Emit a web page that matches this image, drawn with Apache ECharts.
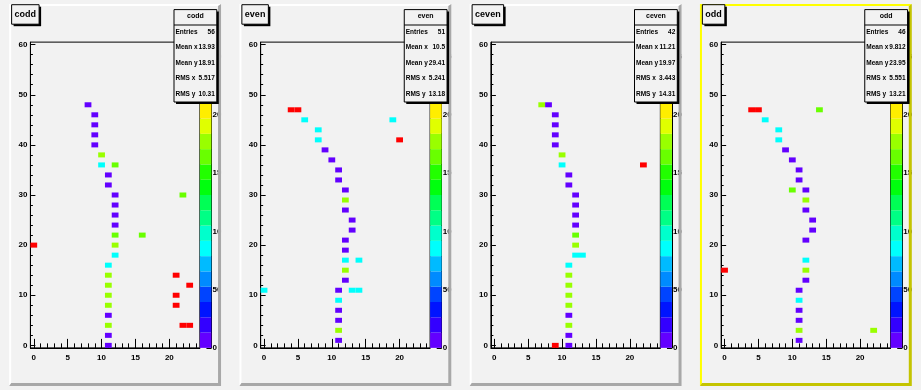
<!DOCTYPE html>
<html><head><meta charset="utf-8">
<script src="https://cdn.jsdelivr.net/npm/echarts@6/dist/echarts.min.js"></script>
<style>html,body{margin:0;padding:0;background:#f2f2f2}#c{width:921px;height:390px}</style>
</head><body><div id="c"></div>
<script>
// ---------------- data ----------------
const padTitles = ['codd', 'even', 'ceven', 'odd'];
const xMajorTicks = [0, 5, 10, 15, 20];
const xMinorTicks = [0,1,2,3,4,5,6,7,8,9,10,11,12,13,14,15,16,17,18,19,20,21,22,23,24];
const yMajorTicks = [0, 10, 20, 30, 40, 50, 60];
const yMinorTicks = [0,2,4,6,8,10,12,14,16,18,20,22,24,26,28,30,32,34,36,38,40,42,44,46,48,50,52,54,56,58,60];
const zTicks = [0, 50, 100, 150, 200, 250];
const zMax = 262.5;
const paletteColors = ['#6300ff','#3300ff','#0014ff','#0044ff','#008bff','#00bbff','#00fffc','#00ffcc','#00ff85','#00ff55',
                       '#00ff0e','#22ff00','#69ff00','#99ff00','#e0ff00','#ffee00','#ffa700','#ff7700','#ff3000','#ff0000'];
const statNames = ['Entries', 'Mean x', 'Mean y', 'RMS x', 'RMS y'];
const coddStats  = ['56', '13.93', '18.91', '5.517', '10.31'];
const evenStats  = ['51', '10.5', '29.41', '5.241', '13.18'];
const cevenStats = ['42', '11.21', '19.97', '3.443', '14.31'];
const oddStats   = ['46', '9.812', '23.95', '5.551', '13.21'];

const coddCells = [[8,48,10],[9,46,10],[9,44,10],[9,42,10],[9,40,10],[10,38,180],[10,36,85],[12,36,165],[11,34,10],[11,32,10],
  [12,30,10],[22,30,165],[12,28,10],[12,26,10],[12,24,10],[12,22,165],[16,22,165],[12,20,180],[0,20,250],[12,18,85],
  [11,16,85],[11,14,180],[11,12,180],[11,10,180],[11,8,180],[11,6,10],[11,4,180],[11,2,10],[11,0,10],[21,14,250],
  [23,12,250],[21,10,250],[21,8,250],[22,4,250],[23,4,250]];
const evenCells = [[4,47,250],[5,47,250],[6,45,85],[19,45,85],[8,43,85],[8,41,85],[20,41,250],[9,39,10],[10,37,10],[11,35,10],
  [11,33,10],[12,31,10],[12,29,180],[12,27,10],[13,25,10],[13,23,10],[12,21,10],[12,19,10],[12,17,85],[14,17,85],
  [12,15,180],[12,13,10],[0,11,85],[11,11,10],[13,11,85],[14,11,85],[11,9,85],[11,7,10],[11,5,10],[11,3,180],[11,1,10]];
const cevenCells = [[7,48,180],[8,48,10],[9,46,10],[9,44,10],[9,42,10],[9,40,10],[10,38,180],[10,36,85],[22,36,250],[11,34,10],
  [11,32,10],[12,30,10],[12,28,10],[12,26,10],[12,24,10],[12,22,165],[12,20,180],[12,18,85],[13,18,85],[11,16,85],
  [11,14,180],[11,12,180],[11,10,180],[11,8,180],[11,6,10],[11,4,180],[11,2,10],[11,0,10],[9,0,250]];
const oddCells = [[4,47,250],[5,47,250],[14,47,165],[6,45,85],[8,43,85],[8,41,85],[9,39,10],[10,37,10],[11,35,10],[11,33,10],
  [10,31,165],[12,31,10],[12,29,180],[12,27,10],[13,25,10],[13,23,10],[12,21,10],[12,17,85],[0,15,250],[12,15,180],
  [12,13,10],[11,11,10],[11,9,85],[11,7,10],[11,5,10],[11,3,180],[22,3,180],[11,1,10]];

const padCells = [coddCells, evenCells, cevenCells, oddCells];
const padStats = [coddStats, evenStats, cevenStats, oddStats];

// ---------------- layout ----------------
const W = 921, H = 390;
const BG = '#f2f2f2';
const FONT = '"Liberation Sans", Arial, sans-serif';
const nLevels = paletteColors.length;
function zColor(z) {
  let j = Math.floor(0.01 + z * nLevels / zMax);
  j = Math.max(0, Math.min(nLevels - 1, j));
  return paletteColors[j];
}
const measure = (() => {
  const ctx = document.createElement('canvas').getContext('2d');
  return (txt, font) => { ctx.font = font; return ctx.measureText(txt).width; };
})();

const pads = padTitles.map((title, i) => {
  const l = W * (i / 4 + 0.01), r = W * ((i + 1) / 4 - 0.01), t = H * 0.01, b = H * 0.99;
  const pw = r - l, ph = b - t;
  return { title, l, r, t, b, pw, ph, fl: l + 0.1 * pw, fr: r - 0.1 * pw, ft: t + 0.1 * ph, fb: b - 0.1 * ph };
});

const labelFont = { color: '#000', fontFamily: FONT, fontWeight: 'bold', fontSize: 8 };
const grid = [], xAxis = [], yAxis = [], series = [], elements = [];

pads.forEach((p, i) => {
  const fw = p.fr - p.fl, fh = p.fb - p.ft;
  grid.push({ left: p.fl, top: p.ft, width: fw, height: fh, show: true, backgroundColor: 'transparent',
              borderColor: '#000', borderWidth: 1 });
  grid.push({ left: p.fr, top: p.ft, width: 11.6, height: fh, show: false });
  const g = 2 * i;
  xAxis.push({ type: 'value', gridIndex: g, min: -0.5, max: 24.5, position: 'bottom',
    axisLine: { show: true, onZero: false, lineStyle: { color: '#000', width: 1 } },
    axisTick: { show: true, inside: true, length: 9, customValues: xMajorTicks, lineStyle: { color: '#000' } },
    axisLabel: Object.assign({ show: true, customValues: xMajorTicks, margin: 6 }, labelFont),
    splitLine: { show: false } });
  xAxis.push({ type: 'value', gridIndex: g, min: -0.5, max: 24.5, position: 'bottom',
    axisLine: { show: false, onZero: false },
    axisTick: { show: true, inside: true, length: 4.5, customValues: xMinorTicks, lineStyle: { color: '#000' } },
    axisLabel: { show: false }, splitLine: { show: false } });
  xAxis.push({ type: 'value', gridIndex: g + 1, min: 0, max: 1, show: false });
  yAxis.push({ type: 'value', gridIndex: g, min: -0.5, max: 60.5, position: 'left',
    axisLine: { show: true, onZero: false, lineStyle: { color: '#000', width: 1 } },
    axisTick: { show: true, inside: true, length: 5, customValues: yMajorTicks, lineStyle: { color: '#000' } },
    axisLabel: Object.assign({ show: true, customValues: yMajorTicks, margin: 3 }, labelFont),
    splitLine: { show: false } });
  yAxis.push({ type: 'value', gridIndex: g, min: -0.5, max: 60.5, position: 'left',
    axisLine: { show: false, onZero: false },
    axisTick: { show: true, inside: true, length: 2.5, customValues: yMinorTicks, lineStyle: { color: '#000' } },
    axisLabel: { show: false }, splitLine: { show: false } });
  yAxis.push({ type: 'value', gridIndex: g + 1, min: 0, max: zMax, position: 'right',
    axisLine: { show: true, onZero: false, lineStyle: { color: '#000', width: 1 } },
    axisTick: { show: true, inside: true, length: 5, customValues: zTicks, lineStyle: { color: '#000' } },
    axisLabel: Object.assign({ show: true, customValues: zTicks, margin: 1 }, labelFont),
    splitLine: { show: false } });

  // histogram cells
  series.push({ type: 'custom', xAxisIndex: 3 * i, yAxisIndex: 3 * i, clip: true, z: 3,
    encode: { x: 0, y: 1 }, data: padCells[i],
    renderItem: (params, api) => {
      const x = api.value(0), y = api.value(1), z = api.value(2);
      const a = api.coord([x - 0.5, y + 0.5]), b = api.coord([x + 0.5, y - 0.5]);
      return { type: 'rect', shape: { x: a[0], y: a[1], width: b[0] - a[0], height: b[1] - a[1] },
               style: { fill: zColor(z) } };
    } });
  // colour palette
  series.push({ type: 'custom', xAxisIndex: 3 * i + 2, yAxisIndex: 3 * i + 2, z: 2,
    encode: { x: 0, y: 1 }, data: paletteColors.map((c, k) => [0.5, k]),
    renderItem: (params, api) => {
      const k = api.value(1);
      const a = api.coord([0, (k + 1) * zMax / nLevels]), b = api.coord([1, k * zMax / nLevels]);
      return { type: 'rect', shape: { x: a[0], y: a[1], width: b[0] - a[0], height: b[1] - a[1] },
               style: { fill: paletteColors[k] } };
    } });

  // gap after pad (clips palette labels)
  const nextL = i < 3 ? pads[i + 1].l : W;
  elements.push({ type: 'rect', z: 90, shape: { x: p.r, y: 0, width: nextL - p.r + 1, height: H }, style: { fill: BG } });
  elements.push({ type: 'rect', z: 90, shape: { x: p.l, y: p.b, width: p.pw, height: H - p.b }, style: { fill: BG } });
  // bevel
  const sel = i === 3;
  const bl = 2, bd = 3;
  elements.push({ type: 'polygon', z: 95, shape: { points: [[p.l, p.t], [p.r, p.t], [p.r - bd, p.t + bl], [p.l + bl, p.t + bl], [p.l + bl, p.b - bd], [p.l, p.b]] },
    style: { fill: sel ? '#ffff00' : '#ffffff' } });
  elements.push({ type: 'polygon', z: 95, shape: { points: [[p.r, p.t], [p.r, p.b], [p.l, p.b], [p.l + bl, p.b - bd], [p.r - bd, p.b - bd], [p.r - bd, p.t + bl]] },
    style: { fill: sel ? '#c4c400' : '#a8a8a8' } });

  // title box
  const tFont = 'bold 9px ' + FONT;
  const tw = measure(p.title, tFont) + 6;
  const tx = p.l + 2.4, ty = p.t + 0.8, th = 19.5;
  elements.push({ type: 'rect', z: 100, shape: { x: tx + 2, y: ty + 2, width: tw, height: th }, style: { fill: '#000' } });
  elements.push({ type: 'rect', z: 101, shape: { x: tx, y: ty, width: tw, height: th }, style: { fill: BG, stroke: '#000', lineWidth: 1 } });
  elements.push({ type: 'text', z: 102, x: tx + 3, y: ty + th / 2, style: { text: p.title, font: tFont, fill: '#000', align: 'left', verticalAlign: 'middle' } });

  // stats box
  const sx1 = p.l + 0.778 * p.pw, sx2 = p.l + 0.98 * p.pw, sy1 = 9.6, sy2 = 102;
  elements.push({ type: 'rect', z: 100, shape: { x: sx1 + 2, y: sy1 + 2, width: sx2 - sx1, height: sy2 - sy1 }, style: { fill: '#000' } });
  elements.push({ type: 'rect', z: 101, shape: { x: sx1, y: sy1, width: sx2 - sx1, height: sy2 - sy1 }, style: { fill: BG, stroke: '#000', lineWidth: 1 } });
  elements.push({ type: 'line', z: 102, shape: { x1: sx1, y1: sy1 + 15.4, x2: sx2, y2: sy1 + 15.4 }, style: { stroke: '#000', lineWidth: 1 } });
  elements.push({ type: 'text', z: 102, x: (sx1 + sx2) / 2, y: sy1 + 6.8, style: { text: p.title, font: 'bold 7px ' + FONT, fill: '#000', align: 'center', verticalAlign: 'middle' } });
  statNames.forEach((nm, k) => {
    const yy = sy1 + 22.3 + 15.5 * k;
    elements.push({ type: 'text', z: 102, x: sx1 + 1.5, y: yy, style: { text: nm, font: 'bold 6.5px ' + FONT, fill: '#000', align: 'left', verticalAlign: 'middle' } });
    elements.push({ type: 'text', z: 102, x: sx2 - 2, y: yy, style: { text: padStats[i][k], font: 'bold 6.5px ' + FONT, fill: '#000', align: 'right', verticalAlign: 'middle' } });
  });
});

const chart = echarts.init(document.getElementById('c'), null, { renderer: 'canvas' });
chart.setOption({
  backgroundColor: BG,
  animation: false,
  grid, xAxis, yAxis, series,
  graphic: { elements }
});
</script></body></html>
